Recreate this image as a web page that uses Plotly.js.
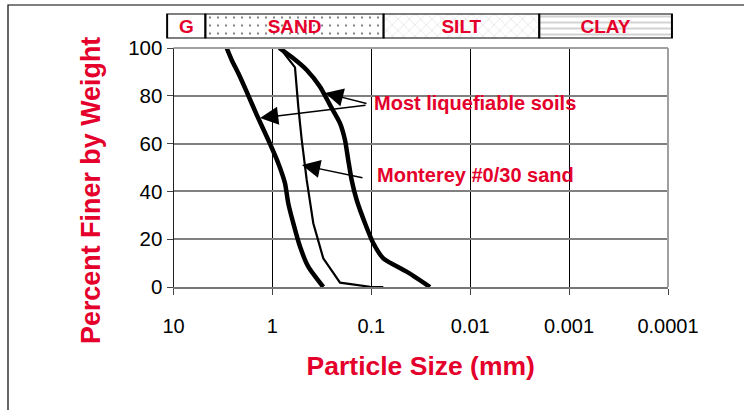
<!DOCTYPE html>
<html>
<head>
<meta charset="utf-8">
<script src="https://cdn.plot.ly/plotly-3.0.1.min.js"></script>
<style>
html,body{margin:0;padding:0;background:#fff;}
#chart{width:744px;height:410px;}
</style>
</head>
<body>
<div id="chart"></div>
<script>
// ---- data ----
// Coarse boundary of "most liquefiable soils"
const coarseSize = [2.90, 2.58, 2.21, 1.79, 1.44, 1.10, 0.872, 0.746, 0.691, 0.615, 0.526, 0.434, 0.306];
const coarsePct  = [100, 95, 89.4, 81, 72, 61.5, 51.8, 43.4, 35, 26.7, 16.9, 8.5, 0];
// Fine boundary of "most liquefiable soils"
const fineSize = [0.852, 0.615, 0.450, 0.330, 0.262, 0.207, 0.1845, 0.171, 0.158, 0.1405, 0.1158, 0.0954, 0.0756, 0.0439, 0.0255];
const finePct  = [100, 95.7, 90.8, 83.8, 76.2, 68.5, 61.5, 53.1, 44.8, 36.4, 26.7, 18.3, 12, 6.4, 0];
// Monterey #0/30 sand
const montereySize = [0.838, 0.591, 0.547, 0.505, 0.450, 0.386, 0.306, 0.207, 0.103, 0.0756];
const montereyPct  = [100, 91.9, 75.4, 61.5, 44.8, 26.7, 12, 1.8, 0.1, 0];

// Soil classification bar (mm)
const soilClasses = ['G', 'SAND', 'SILT', 'CLAY'];
const classUpper  = [11.6, 4.75, 0.075, 0.002];
const classLower  = [4.75, 0.075, 0.002, 0.0000912];

// Axis ticks
const xTickVals  = [10, 1, 0.1, 0.01, 0.001, 0.0001];
const xTickText  = ['10', '1', '0.1', '0.01', '0.001', '0.0001'];
const yTickVals  = [0, 20, 40, 60, 80, 100];

// ---- style ----
const RED = '#E4002B';
const FONT = 'Liberation Sans, Arial, Helvetica, sans-serif';

const classTrace = {
  type: 'bar', orientation: 'h',
  x: classUpper.map((u, i) => u - classLower[i]),
  base: classLower,
  y: soilClasses.map(() => 0),
  width: soilClasses.map(() => 1),
  xaxis: 'x2', yaxis: 'y2',
  marker: {
    color: '#fff',
    line: {color: '#000', width: 2},
    pattern: {
      shape: ['', '.', 'x', '-'],
      size: [6, 8, 8, 6],
      solidity: [0.1, 0.06, 0.05, 0.1],
      fgcolor: ['#fff', '#666', '#999', '#666'],
      bgcolor: '#fff'
    }
  },
  text: soilClasses, textposition: 'inside', insidetextanchor: 'middle',
  textangle: 0, constraintext: 'none',
  textfont: {family: FONT, size: 19, color: RED, weight: 'bold'},
  hoverinfo: 'skip', showlegend: false, cliponaxis: false
};

const curveTraces = [
  {x: coarseSize, y: coarsePct, line: {width: 4.5, color: '#000', shape: 'spline', smoothing: 0.6}},
  {x: fineSize, y: finePct, line: {width: 4.5, color: '#000', shape: 'spline', smoothing: 0.6}},
  {x: montereySize, y: montereyPct, line: {width: 2.2, color: '#000'}}
].map(t => Object.assign({type: 'scatter', mode: 'lines', showlegend: false, hoverinfo: 'skip', cliponaxis: false}, t));

// layout geometry (pixels)
const W = 744, H = 410;
const mL = 166, mR = 71, mT = 12, mB = 123;
const pw = W - mL - mR, ph = H - mT - mB;
const plotLeft = 173.5, plotRight = 668, plotTop = 48;
const decPx = (plotRight - plotLeft) / 5;

const layout = {
  width: W, height: H,
  margin: {l: mL, r: mR, t: mT, b: mB},
  paper_bgcolor: '#fff', plot_bgcolor: '#fff',
  font: {family: FONT, color: '#000'},
  showlegend: false,
  barmode: 'overlay',
  xaxis: {
    type: 'log', range: [1, -4],
    domain: [(plotLeft - mL) / pw, (plotRight - mL) / pw],
    tickvals: xTickVals, ticktext: xTickText,
    tickfont: {size: 20, family: FONT, color: '#000'},
    ticks: 'outside', ticklen: 6, tickcolor: '#444', tickwidth: 1,
    ticklabelstandoff: 14,
    showgrid: true, gridcolor: '#000', gridwidth: 1,
    showline: true, linecolor: '#777', linewidth: 2, mirror: false,
    zeroline: false, anchor: 'y',
    title: {text: 'Particle Size (mm)', font: {size: 26.5, family: FONT, color: RED, weight: 'bold'}, standoff: 20}
  },
  yaxis: {
    range: [0, 100],
    domain: [0, (H - mB - plotTop) / ph],
    tickvals: yTickVals,
    tickfont: {size: 20.5, family: FONT, color: '#000'},
    ticks: 'outside', ticklen: 6, tickcolor: '#444', tickwidth: 1,
    showgrid: true, gridcolor: '#808080', gridwidth: 2,
    showline: true, linecolor: '#222', linewidth: 1,
    zeroline: false, anchor: 'x'
  },
  xaxis2: {
    type: 'log',
    range: [1 + (plotLeft - mL) / decPx, -4 - (mL + pw - plotRight) / decPx],
    domain: [0, 1], anchor: 'y2', visible: false, fixedrange: true
  },
  yaxis2: {
    range: [-0.5, 0.5],
    domain: [(H - mB - 38.5) / ph, (H - mB - 13.5) / ph],
    anchor: 'x2', visible: false, fixedrange: true
  },
  shapes: [
    // right & top plot frame (light grey)
    {type: 'line', xref: 'x domain', yref: 'y domain', x0: 1, x1: 1, y0: 0, y1: 1, line: {color: '#a0a0a0', width: 2}},
    {type: 'line', xref: 'x domain', yref: 'y domain', x0: 0, x1: 1, y0: 1, y1: 1, line: {color: '#a0a0a0', width: 2}},
    // outer picture frame
    {type: 'rect', xref: 'paper', yref: 'paper',
     x0: (8 - mL) / pw, x1: (W + 10 - mL) / pw,
     y0: (H - mB - (H + 10)) / ph, y1: (H - mB - 5) / ph,
     line: {color: '#000', width: 1.2}, fillcolor: 'rgba(0,0,0,0)', layer: 'below'}
  ],
  annotations: [
    // y-axis title
    {xref: 'paper', yref: 'paper', x: (91 - mL) / pw, y: (H - mB - 191) / ph,
     text: '<b>Percent Finer by Weight</b>', textangle: -90, showarrow: false,
     xanchor: 'center', yanchor: 'middle', font: {size: 26.9, family: FONT, color: RED}},
    {xref: 'x', yref: 'y', x: -1.007, y: 77, text: '<b>Most liquefiable soils</b>', showarrow: false,
     xanchor: 'left', yanchor: 'middle', font: {size: 20, family: FONT, color: RED}},
    {xref: 'x', yref: 'y', x: -1.037, y: 47, text: '<b>Monterey #0/30 sand</b>', showarrow: false,
     xanchor: 'left', yanchor: 'middle', font: {size: 20, family: FONT, color: RED}},
    {xref: 'x', yref: 'y', x: -0.532, y: 81.2, text: '', showarrow: true, ax: 43, ay: 11,
     arrowhead: 2, arrowsize: 2.6, arrowwidth: 1.4, arrowcolor: '#000', standoff: 0},
    {xref: 'x', yref: 'y', x: 0.125, y: 70.7, text: '', showarrow: true, ax: 107, ay: -13,
     arrowhead: 2, arrowsize: 2.6, arrowwidth: 1.4, arrowcolor: '#000', standoff: 0},
    {xref: 'x', yref: 'y', x: -0.299, y: 51.0, text: '', showarrow: true, ax: 62, ay: 13,
     arrowhead: 2, arrowsize: 2.6, arrowwidth: 1.4, arrowcolor: '#000', standoff: 0}
  ]
};

Plotly.newPlot('chart', [classTrace].concat(curveTraces), layout, {staticPlot: true, displayModeBar: false});
</script>
</body>
</html>
